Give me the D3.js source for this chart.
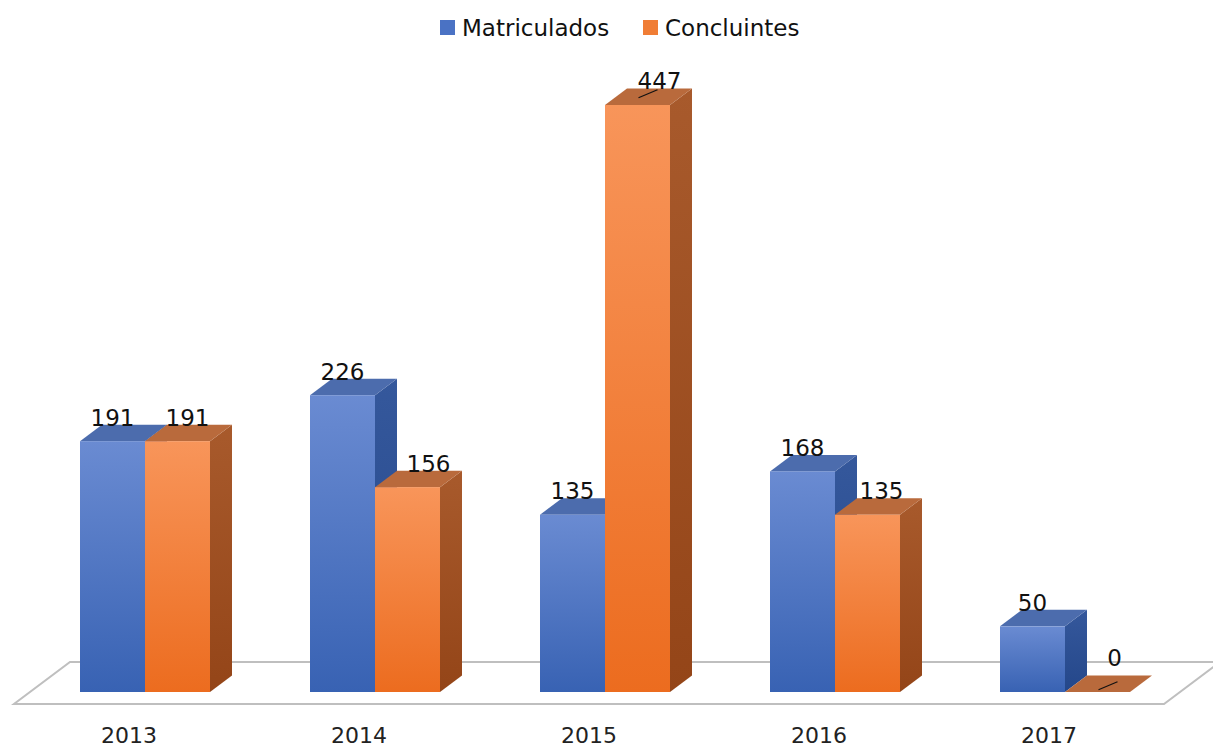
<!DOCTYPE html>
<html><head><meta charset="utf-8">
<script src="https://cdn.jsdelivr.net/npm/d3@7/dist/d3.min.js"></script>
<style>body{margin:0;background:#fff}svg{display:block}text{font-family:"DejaVu Sans",Roboto,sans-serif}</style>
</head><body><svg id="c" width="1213" height="750"></svg>
<script>
const categories = ["2013","2014","2015","2016","2017"];
const seriesNames = ["Matriculados","Concluintes"];
const matriculados = [191,226,135,168,50];
const concluintes = [191,156,447,135,0];

const W=1213,H=750;
const svg=d3.select("#c");
const defs=svg.append("defs");
const baseY=692, topY=105;
const y=d3.scaleLinear().domain([0,447]).range([baseY,topY]);
const x=d3.scaleBand().domain(categories).range([30,1180]).paddingInner(100/230).paddingOuter(50/230).align(0.5);
const xs=d3.scaleBand().domain(seriesNames).range([0,x.bandwidth()]).padding(0);
const dx=22, dy=-16.5;        // bar depth
const fdx=56, fdy=-42;        // floor depth

const pal={
  Matriculados:{f0:"#6a8bd2",f1:"#3862b3",top:"#4c6cad",s0:"#35589c",s1:"#24478a",leg:"#4a72c4"},
  Concluintes:{f0:"#f8955a",f1:"#ec6c1f",top:"#b96a3c",s0:"#a85a2c",s1:"#944518",leg:"#f07d35"}
};
function grad(id,c0,c1){
  const g=defs.append("linearGradient").attr("id",id).attr("x1",0).attr("y1",0).attr("x2",0).attr("y2",1);
  g.append("stop").attr("offset","0%").attr("stop-color",c0);
  g.append("stop").attr("offset","100%").attr("stop-color",c1);
}
seriesNames.forEach(s=>{grad("f_"+s,pal[s].f0,pal[s].f1);grad("s_"+s,pal[s].s0,pal[s].s1);});

// floor
const fl=x.range()[0]-16, fr=x.range()[1]-16;
const fy=baseY+12;
svg.append("path")
  .attr("d",`M${fl},${fy}L${fr},${fy}L${fr+fdx},${fy+fdy}L${fl+fdx},${fy+fdy}Z`)
  .attr("fill","#fff").attr("stroke","#bfbfbf").attr("stroke-width",2);

const rows=categories.map((c,i)=>({cat:c,vals:[matriculados[i],concluintes[i]]}));
const g=svg.append("g");
rows.forEach(r=>{
  r.vals.forEach((v,j)=>{
    const s=seriesNames[j];
    const x0=x(r.cat)+xs(s), x1=x0+xs.bandwidth();
    const yt=y(v), yb=y(0);
    g.append("path").attr("d",`M${x1},${yt}L${x1+dx},${yt+dy}L${x1+dx},${yb+dy}L${x1},${yb}Z`)
      .attr("fill",`url(#s_${s})`);
    g.append("path").attr("d",`M${x0},${yt}L${x1},${yt}L${x1+dx},${yt+dy}L${x0+dx},${yt+dy}Z`)
      .attr("fill",pal[s].top);
    if(v>0) g.append("rect").attr("x",x0).attr("y",yt).attr("width",x1-x0).attr("height",yb-yt)
      .attr("fill",`url(#f_${s})`);
  });
});

// value labels
const labelNudge=[[0,10],[0,21],[0,0],[0,14],[0,0]];
const leader=[[null,null],[null,null],[null,[22,-1]],[null,null],[null,[17,-11]]];
rows.forEach((r,i)=>{
  r.vals.forEach((v,j)=>{
    const s=seriesNames[j];
    const x0=x(r.cat)+xs(s), cx=x0+xs.bandwidth()/2;
    const yt=y(v)+dy;
    let lx=cx+labelNudge[i][j], ly=yt+1;
    const L=leader[i][j];
    if(L){
      lx=cx+L[0]; ly=yt+1+L[1];
      const o=(v===0?6:1);
      svg.append("line").attr("x1",cx+1).attr("y1",y(v)+dy/2+o)
        .attr("x2",cx+20).attr("y2",y(v)+dy/2-8+o).attr("stroke","#111").attr("stroke-width",1.2);
    }
    svg.append("text").attr("x",lx).attr("y",ly).attr("text-anchor","middle")
      .attr("font-size",23).attr("fill","#111").text(v);
  });
});

// category labels
categories.forEach(c=>{
  svg.append("text").attr("x",x(c)+x.bandwidth()/2-16).attr("y",743).attr("text-anchor","middle")
    .attr("font-size",22).attr("fill","#222").text(c);
});

// legend
const lg=[{n:"Matriculados",x:440},{n:"Concluintes",x:643}];
lg.forEach(d=>{
  svg.append("rect").attr("x",d.x).attr("y",20).attr("width",15).attr("height",15).attr("fill",pal[d.n].leg);
  svg.append("text").attr("x",d.x+22).attr("y",36).attr("font-size",23).attr("fill","#111").text(d.n);
});
</script></body></html>
